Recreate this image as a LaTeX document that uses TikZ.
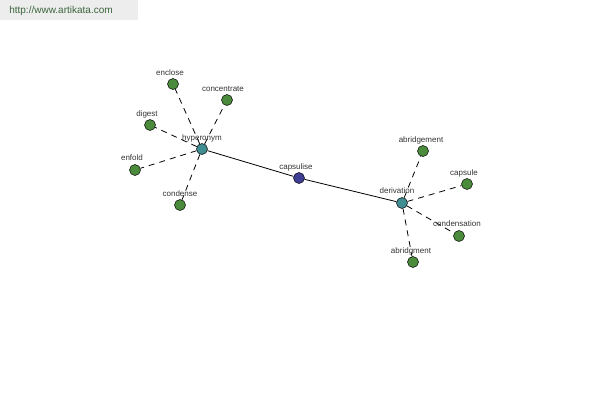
\documentclass[tikz,border=0pt]{standalone}
\usepackage{fontspec}
\setmainfont{Liberation Sans}
\definecolor{leafgreen}{RGB}{74,140,60}
\definecolor{hubteal}{RGB}{64,142,146}
\definecolor{midblue}{RGB}{62,62,150}
\definecolor{urlgreen}{RGB}{60,100,60}

\begin{document}
\begin{tikzpicture}[x=1pt,y=-1pt,
  dot/.style={circle, draw=black, line width=0.5pt, minimum size=11pt, inner sep=0pt},
  leaf/.style={dot, fill=leafgreen},
  hub/.style={dot, fill=hubteal},
  word/.style={font=\fontsize{8}{9}\selectfont, text=black!80, inner sep=0pt},
  link/.style={black, line width=0.8pt},
  sublink/.style={black, line width=0.8pt, dash pattern=on 6pt off 5pt}]
\useasboundingbox (0,0) rectangle (600,400);
\fill[black!7] (0,0) rectangle (138,20);
\node[font=\fontsize{10}{12}\selectfont, text=urlgreen] (url) at (61,11) {http://www.artikata.com};
% main chain
\node[hub] (hyperonym) at (202,149) {};
\node[dot, fill=midblue] (capsulise) at (299,178) {};
\node[hub] (derivation) at (402,203) {};
% leaves of hyperonym
\node[leaf] (enclose) at (173,84) {};
\node[leaf] (concentrate) at (227,100) {};
\node[leaf] (digest) at (150,125) {};
\node[leaf] (enfold) at (135,170) {};
\node[leaf] (condense) at (180,205) {};
% leaves of derivation
\node[leaf] (abridgement) at (423,151) {};
\node[leaf] (capsule) at (467,184) {};
\node[leaf] (condensation) at (459,236) {};
\node[leaf] (abridgment) at (413,262) {};
\draw[link] (hyperonym) -- (capsulise) -- (derivation);
\foreach \n in {enclose,concentrate,digest,enfold,condense}
  \draw[sublink] (hyperonym) -- (\n);
\foreach \n in {abridgement,capsule,condensation,abridgment}
  \draw[sublink] (derivation) -- (\n);
% labels
\node[word] (hyperonym-l) at (202,138) {hyperonym};
\node[word] (capsulise-l) at (296,167) {capsulise};
\node[word] (derivation-l) at (397,191) {derivation};
\node[word] (enclose-l) at (170,73) {enclose};
\node[word] (concentrate-l) at (223,89) {concentrate};
\node[word] (digest-l) at (147,114) {digest};
\node[word] (enfold-l) at (132,158) {enfold};
\node[word] (condense-l) at (180,194) {condense};
\node[word] (abridgement-l) at (421,140) {abridgement};
\node[word] (capsule-l) at (464,173) {capsule};
\node[word] (condensation-l) at (457,224) {condensation};
\node[word] (abridgment-l) at (411,251) {abridgment};
\end{tikzpicture}
\end{document}
